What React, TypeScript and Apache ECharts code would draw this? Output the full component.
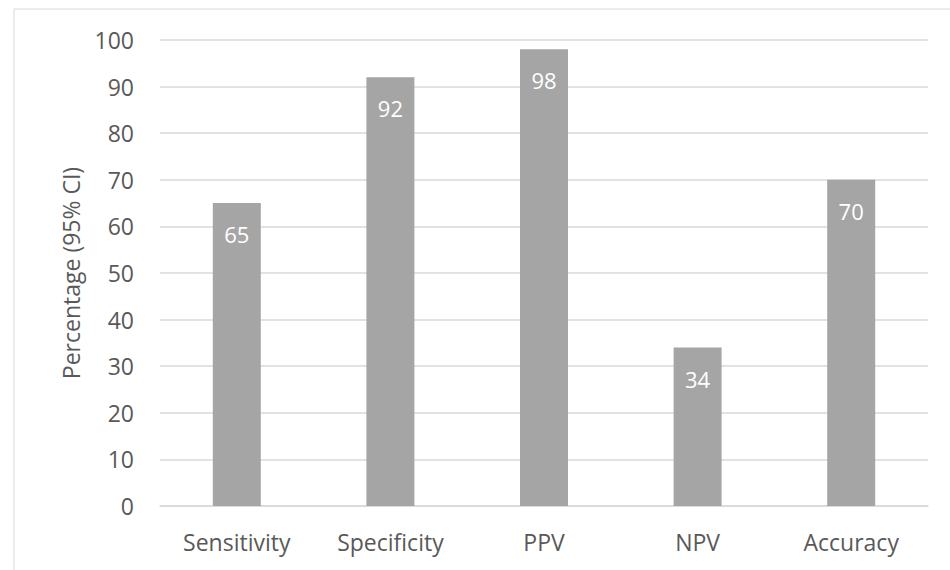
import React, { useEffect, useRef } from "react";
import * as echarts from "echarts";

const categories = ["Sensitivity", "Specificity", "PPV", "NPV", "Accuracy"];
const values = [65, 92, 98, 34, 70];
const yAxisName = "Percentage (95% CI)";

export default function App() {
  const ref = useRef<HTMLDivElement>(null);
  useEffect(() => {
    const chart = echarts.init(ref.current!, null, { renderer: "svg" });
    const font = "'Open Sans', sans-serif";
    chart.setOption({
      animation: false,
      backgroundColor: "#ffffff",
      graphic: [
        {
          type: "rect",
          shape: { x: 14, y: 9, width: 1000, height: 1000 },
          style: { fill: "none", stroke: "#d9d9d9", lineWidth: 1 },
          silent: true,
        },
      ],
      grid: { left: 160, right: 22, top: 40, bottom: 64 },
      xAxis: {
        type: "category",
        data: categories,
        axisLine: { lineStyle: { color: "#d9d9d9", width: 1.5 } },
        axisTick: { show: false },
        axisLabel: { color: "#595959", fontSize: 23, fontFamily: font, margin: 24 },
      },
      yAxis: {
        type: "value",
        min: 0,
        max: 100,
        interval: 10,
        name: yAxisName,
        nameLocation: "middle",
        nameGap: 78,
        nameTextStyle: { color: "#595959", fontSize: 23, fontFamily: font },
        axisLine: { show: false },
        axisTick: { show: false },
        axisLabel: { color: "#595959", fontSize: 23, fontFamily: font, margin: 26 },
        splitLine: { lineStyle: { color: "#d9d9d9", width: 1.5 } },
      },
      series: [
        {
          type: "bar",
          data: values,
          barWidth: 48,
          itemStyle: { color: "#a5a5a5" },
          label: {
            show: true,
            position: "insideTop",
            distance: 20,
            color: "#ffffff",
            fontSize: 22,
            fontFamily: font,
          },
        },
      ],
    });
    return () => chart.dispose();
  }, []);
  return <div ref={ref} style={{ width: 950, height: 570, position: "absolute", left: 0, top: 0 }} />;
}
